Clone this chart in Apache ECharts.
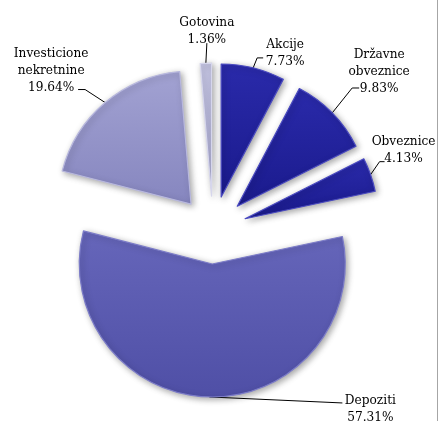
<!DOCTYPE html>
<html>
<head>
<meta charset="utf-8">
<script src="https://cdn.jsdelivr.net/npm/echarts@6/dist/echarts.min.js"></script>
<style>html,body{margin:0;padding:0;background:#fff}#c{width:440px;height:421px}</style>
</head>
<body>
<div id="c"></div>
<script>
// ---- data ----
const categories = ['Akcije', 'Državne obveznice', 'Obveznice', 'Depoziti', 'Investicione nekretnine', 'Gotovina'];
const labelNames = ['Akcije', 'Državne\nobveznice', 'Obveznice', 'Depoziti', 'Investicione\nnekretnine', 'Gotovina'];
const values = [7.73, 9.83, 4.13, 57.31, 19.64, 1.36];

// ---- layout / styles ----
const CENTER = [213, 230];
const RADIUS = 133;
const EXPLODE = 34;
const fills = [
  ['#2a2aaa', '#1a1a8c'],
  ['#2a2aaa', '#1a1a8c'],
  ['#2a2aaa', '#1a1a8c'],
  ['#6666ba', '#4f4fa6'],
  ['#a2a2d2', '#8686bf'],
  ['#c4c4e2', '#a8a8d0']
];
const rims = ['#4a4ac0', '#4a4ac0', '#4a4ac0', '#7c7cc8', '#b8b8de', '#d6d6ec'];
// leader segments [first, second] and label-centre offset from line end
const leader = [
  [[4, -10], [6, 0], [22, -5]],
  [[20, -25], [7, 0], [20, -16]],
  [[9, -13], [5, 0], [19, -12]],
  [[133, 6], [0, 0], [28, 6]],
  [[-20, -13], [-7, 0], [-27, -19]],
  [[1, -20], [0, 0], [0, -12]]
];
const FONT = "'DejaVu Serif Condensed', 'DejaVu Serif', serif";

const chart = echarts.init(document.getElementById('c'), null, {renderer: 'canvas'});

const sliceData = categories.map((name, i) => ({
  name: name,
  value: values[i],
  selected: true,
  itemStyle: {
    color: new echarts.graphic.LinearGradient(0, 0, 0, 1, [
      {offset: 0, color: fills[i][0]}, {offset: 1, color: fills[i][1]}
    ]),
    borderColor: rims[i]
  }
}));
const labelData = categories.map((name, i) => ({name: name, value: values[i]}));

chart.setOption({
  animation: false,
  backgroundColor: '#ffffff',
  graphic: [{
    type: 'line', shape: {x1: 437.5, y1: 0, x2: 437.5, y2: 421},
    style: {stroke: '#a6a6a6', lineWidth: 1}
  }],
  series: [{
    type: 'pie',
    center: CENTER,
    radius: RADIUS,
    startAngle: 90,
    clockwise: true,
    selectedMode: 'multiple',
    selectedOffset: EXPLODE,
    silent: true,
    itemStyle: {
      borderWidth: 1.2,
      shadowBlur: 6,
      shadowColor: 'rgba(0,0,0,0.35)',
      shadowOffsetX: 2,
      shadowOffsetY: 2
    },
    label: {show: false},
    labelLine: {show: false},
    data: sliceData
  }, {
    // transparent twin carrying the labels
    type: 'pie',
    center: CENTER,
    radius: RADIUS,
    startAngle: 90,
    clockwise: true,
    silent: true,
    avoidLabelOverlap: false,
    itemStyle: {color: 'rgba(0,0,0,0)'},
    emphasis: {disabled: true},
    label: {
      show: true,
      position: 'outside',
      overflow: 'none',
      formatter: p => labelNames[p.dataIndex].split('\n').map(s => '{c|' + s + '}').join('\n') +
        '\n{c|' + values[p.dataIndex].toFixed(2) + '%}',
      rich: {
        c: {align: 'center', fontFamily: FONT, fontSize: 13.5, lineHeight: 17, color: '#000'}
      }
    },
    labelLine: {show: true, lineStyle: {color: '#000', width: 1}},
    labelLayout: function (params) {
      const i = params.dataIndex;
      const q = params.labelLinePoints[0];
      const ux = q[0] - CENTER[0], uy = q[1] - CENTER[1];
      const len = Math.sqrt(ux * ux + uy * uy) || 1;
      const p0 = [q[0] + ux / len * EXPLODE, q[1] + uy / len * EXPLODE];
      const L = leader[i];
      const p1 = [p0[0] + L[0][0], p0[1] + L[0][1]];
      const p2 = [p1[0] + L[1][0], p1[1] + L[1][1]];
      return {
        x: p2[0] + L[2][0],
        y: p2[1] + L[2][1],
        align: 'center',
        verticalAlign: 'middle',
        labelLinePoints: [p0, p1, p2]
      };
    },
    data: labelData
  }]
});
</script>
</body>
</html>
